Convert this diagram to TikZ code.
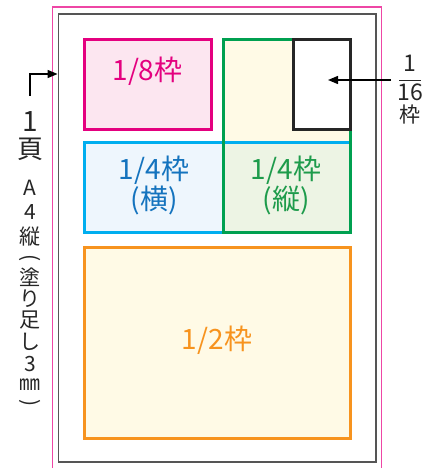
\documentclass[tikz,border=0pt]{standalone}
\usepackage{fontspec}
\setmainfont{Noto Sans CJK JP}
\usetikzlibrary{arrows.meta}

\definecolor{pagepink}{RGB}{238,70,165}
\definecolor{framegray}{RGB}{85,85,85}
\definecolor{eighthred}{RGB}{228,0,127}
\definecolor{eighthfill}{RGB}{252,230,240}
\definecolor{quarterblue}{RGB}{0,174,239}
\definecolor{quartertext}{RGB}{20,115,190}
\definecolor{quarterfill}{RGB}{238,246,253}
\definecolor{quartergreen}{RGB}{0,160,80}
\definecolor{greentext}{RGB}{30,155,75}
\definecolor{overlapfill}{RGB}{237,244,228}
\definecolor{halforange}{RGB}{247,147,30}
\definecolor{creamfill}{RGB}{255,250,230}

\begin{document}
\begin{tikzpicture}[x=1pt,y=-1pt,
		frame/.style={line width=3pt},
		biglabel/.style={font=\fontsize{28}{30}\selectfont,align=center,inner sep=0pt},
		sidechar/.style={font=\fontsize{21}{21}\selectfont,inner sep=0pt,text=black!85},
		pointer/.style={line width=1.3pt,-{Triangle[length=10pt,width=8pt]}}]
	\useasboundingbox[fill=white] (0,0) rectangle (433,468);
	\draw[pagepink,line width=1.1pt] (52.5,468) |- (381.5,7) -- (381.5,468);
	\node[draw=framegray,line width=1.8pt,minimum width=317.5pt,minimum height=448pt,inner sep=0pt] (page) at (217.2,237.8) {};
	\fill[creamfill] (223,40) rectangle (350,232);
	\fill[quarterfill] (84,142) rectangle (223,232);
	\fill[overlapfill] (223,142) rectangle (350,232);
	\draw[frame,quarterblue] (84,142) rectangle (350,232);
	\draw[frame,quartergreen] (223,40) rectangle (350,232);
	\draw[frame,black!85,fill=white] (293,40) rectangle (350,129);
	\draw[frame,eighthred,fill=eighthfill] (84,40) rectangle (211,129);
	\draw[frame,halforange,fill=creamfill] (84,247) rectangle (350,438);
	\node[biglabel,text=eighthred] (eighth) at (147.5,71) {1/8枠};
	\node[biglabel,text=quartertext] (quarterwide) at (154,185) {1/4枠\\(横)};
	\node[biglabel,text=greentext] (quartertall) at (286,185) {1/4枠\\(縦)};
	\node[biglabel,text=halforange] (half) at (217,340) {1/2枠};
	\node[font=\fontsize{23}{24}\selectfont,align=center,inner sep=0pt,text=black!85] (sixteenth) at (410,90) {1\\[-15pt]\rule{22pt}{0.9pt}\\[-4pt]16\\[-2pt]{\fontsize{21}{22}\selectfont 枠}};
	\coordinate (sixteenthtip) at (328,80);
	\draw[pointer] ([xshift=-6pt]sixteenth.west |- sixteenthtip) -- (sixteenthtip);
	\node[sidechar,font=\fontsize{28}{28}\selectfont] (pagenum) at (30,122) {1};
	\node[sidechar,font=\fontsize{26}{26}\selectfont] (pageunit) at (30,149) {頁};
	\foreach \ch/\y in {A/188,4/212,縦/237,塗/277,り/299,足/320,し/342,3/364,㎜/385}
		\node[sidechar] (size-\y) at (30,\y) {\ch};
	\node[sidechar,rotate=-90] (openparen) at (30,258) {(};
	\node[sidechar,rotate=-90] (closeparen) at (30,403) {)};
	\coordinate (corner) at (30,74);
	\draw[pointer] ([yshift=16pt]pagenum.north) -- (corner) -- (page.west |- corner);
\end{tikzpicture}
\end{document}
